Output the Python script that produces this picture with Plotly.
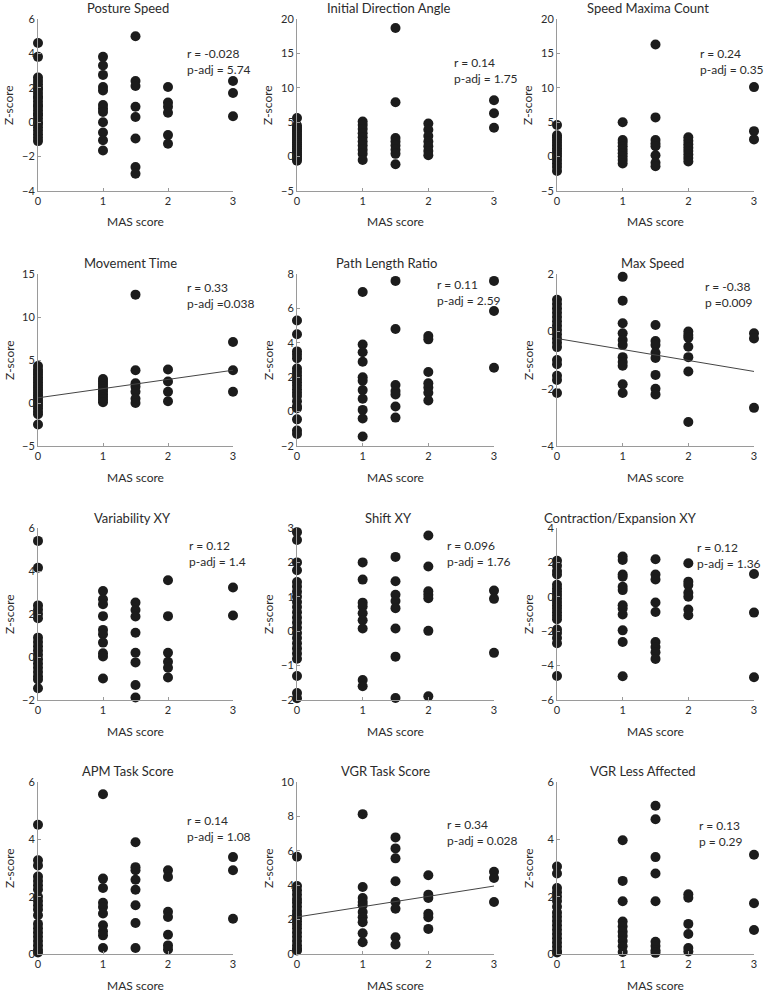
import plotly.graph_objects as go

W, H = 766, 992

MAS_LEVELS = [0, 1, 1.5, 2, 3]
X_TICKS = [0, 1, 2, 3]

TITLES = ["Posture Speed", "Initial Direction Angle", "Speed Maxima Count",
          "Movement Time", "Path Length Ratio", "Max Speed",
          "Variability XY", "Shift XY", "Contraction/Expansion XY",
          "APM Task Score", "VGR Task Score", "VGR Less Affected"]

STATS = ["r = -0.028<br>p-adj = 5.74", "r = 0.14<br>p-adj = 1.75", "r = 0.24<br>p-adj = 0.35",
         "r = 0.33<br>p-adj =0.038", "r = 0.11<br>p-adj = 2.59", "r = -0.38<br>p =0.009",
         "r = 0.12<br>p-adj = 1.4", "r = 0.096<br>p-adj = 1.76", "r = 0.12<br>p-adj = 1.36",
         "r = 0.14<br>p-adj = 1.08", "r = 0.34<br>p-adj = 0.028", "r = 0.13<br>p = 0.29"]

# Z-scores per MAS group (0, 1, 1.5, 2, 3)
posture_speed = [
    [-1.1, -0.9, -0.7, -0.5, -0.3, -0.1, 0.0, 0.2, 0.4, 0.5, 0.7, 0.9, 1.0, 1.2, 1.4, 1.5,
     1.7, 1.9, 2.0, 2.2, 2.4, 2.6, 3.8, 4.6],
    [3.8, 3.3, 2.75, 2.05, 1.85, 1.0, 0.8, 0.6, 0.0, -0.6, -1.05, -1.65],
    [5.0, 2.4, 2.1, 0.9, 0.3, -0.95, -2.6, -3.0],
    [2.05, 1.15, 0.9, 0.55, -0.75, -1.25],
    [2.4, 1.7, 0.35],
]
initial_direction_angle = [
    [-0.6, -0.3, 0.0, 0.3, 0.6, 0.9, 1.2, 1.5, 1.8, 2.1, 2.4, 2.7, 3.0, 3.3, 3.6, 3.9, 4.2, 4.5, 5.6],
    [5.1, 4.6, 4.0, 3.4, 2.8, 2.2, 1.6, 1.0, 0.4, -0.5],
    [18.7, 7.9, 2.7, 2.2, 1.6, 1.0, 0.4, -1.1],
    [4.8, 3.9, 3.0, 2.2, 1.5, 0.8, 0.2],
    [8.2, 6.3, 4.2],
]
speed_maxima_count = [
    [-2.1, -1.5, -1.0, -0.5, 0.0, 0.4, 0.8, 1.2, 1.6, 2.0, 2.4, 2.8, 3.1, 4.6],
    [5.0, 2.4, 2.0, 1.5, 1.0, 0.5, 0.0, -0.5, -1.0],
    [16.3, 5.7, 2.4, 1.9, 1.5, 0.2, -0.9, -1.4],
    [2.8, 2.3, 1.8, 1.3, 0.8, 0.3, -0.2, -0.7],
    [10.1, 3.7, 2.5],
]
movement_time = [
    [-2.5, -1.3, -1.0, -0.6, -0.3, 0.0, 0.3, 0.6, 0.9, 1.2, 1.5, 1.8, 2.1, 2.4, 2.7, 3.0,
     3.3, 3.6, 3.9, 4.3],
    [2.8, 2.5, 2.2, 1.9, 1.6, 1.3, 1.0, 0.7, 0.4, 0.1],
    [12.6, 3.8, 2.3, 1.9, 1.3, 0.5, 0.0],
    [3.9, 2.5, 1.3, 0.2],
    [7.1, 3.8, 1.3],
]
path_length_ratio = [
    [5.3, 4.5, 3.5, 3.3, 3.1, 2.5, 2.3, 2.1, 1.9, 1.7, 1.5, 1.3, 1.1, 0.9, 0.6, 0.3, 0.2,
     -0.45, -1.1, -1.3],
    [6.95, 3.9, 3.45, 2.9, 2.0, 1.8, 1.25, 0.75, 0.1, -0.4, -1.45],
    [7.6, 4.8, 1.55, 1.2, 1.0, 0.3, -0.35],
    [4.4, 4.2, 2.3, 1.65, 1.4, 1.1, 0.65],
    [7.6, 5.85, 2.55],
]
max_speed = [
    [1.1, 0.95, 0.8, 0.65, 0.5, 0.35, 0.2, 0.05, -0.1, -0.25, -0.4, -0.55, -1.0, -1.15,
     -1.55, -1.7, -2.15],
    [1.9, 1.07, 0.28, -0.07, -0.3, -0.48, -0.9, -1.07, -1.2, -1.85, -2.15],
    [0.22, -0.34, -0.48, -0.75, -0.93, -1.52, -2.0, -2.2],
    [-0.01, -0.13, -0.22, -0.54, -0.9, -1.4, -3.16],
    [-0.07, -0.25, -2.67],
]
variability_xy = [
    [5.4, 4.15, 2.4, 2.2, 2.0, 1.8, 0.9, 0.7, 0.5, 0.3, 0.1, -0.1, -0.3, -0.5, -0.7, -0.9,
     -1.05, -1.45],
    [3.07, 2.69, 2.45, 1.9, 1.26, 1.06, 0.67, 0.17, 0.02, -1.0],
    [2.53, 2.19, 1.88, 1.13, 0.2, -0.25, -1.3, -1.88],
    [3.57, 1.9, 0.2, -0.22, -0.5, -0.95],
    [3.23, 1.93],
]
shift_xy = [
    [2.88, 2.65, 2.0, 1.77, 1.43, 1.3, 1.15, 1.0, 0.85, 0.7, 0.55, 0.4, 0.25, 0.1, -0.05,
     -0.2, -0.35, -0.5, -0.65, -0.8, -1.3, -1.8, -1.95],
    [2.0, 1.5, 0.83, 0.72, 0.52, 0.32, 0.08, -1.42, -1.6],
    [3.03, 2.16, 1.45, 1.06, 0.88, 0.67, 0.08, -0.74, -1.94],
    [2.78, 1.88, 1.16, 1.06, 0.96, 0.01, -1.89],
    [1.18, 0.94, -0.63],
]
contraction_expansion_xy = [
    [2.1, 1.8, 1.5, 1.3, 0.7, 0.5, 0.3, 0.1, -0.1, -0.3, -0.5, -0.7, -0.9, -1.1, -1.3,
     -1.9, -2.1, -2.4, -2.7, -4.6],
    [2.34, 2.14, 1.3, 1.17, 0.58, 0.39, -0.49, -0.68, -1.03, -1.95, -2.63, -4.62],
    [2.18, 1.3, 1.01, -0.33, -0.88, -2.63, -2.92, -3.22, -3.61],
    [1.95, 0.88, 0.68, 0.23, 0.0, -0.74, -1.07],
    [1.33, -0.92, -4.68],
]
apm_task_score = [
    [4.51, 3.27, 3.09, 2.7, 2.55, 2.4, 2.25, 2.0, 1.85, 1.7, 1.55, 1.35, 1.05, 0.9, 0.75,
     0.6, 0.45, 0.3, 0.15, 0.05],
    [5.57, 2.63, 2.3, 1.79, 1.64, 1.41, 1.0, 0.79, 0.65, 0.21],
    [3.9, 3.03, 2.92, 2.59, 2.24, 1.7, 1.08, 0.21],
    [2.92, 2.69, 1.47, 1.29, 0.67, 0.3, 0.16],
    [3.38, 2.92, 1.23],
]
vgr_task_score = [
    [5.65, 3.95, 3.7, 3.45, 3.2, 3.0, 2.75, 2.5, 2.3, 2.1, 1.9, 1.7, 1.5, 1.25, 1.0, 0.75,
     0.5, 0.3, 0.2],
    [8.13, 3.9, 3.26, 3.02, 2.83, 2.44, 2.14, 1.85, 1.2, 0.68],
    [6.78, 6.14, 5.56, 4.23, 3.02, 2.63, 0.97, 0.55],
    [4.58, 3.45, 3.26, 2.34, 2.14, 1.46],
    [4.78, 4.42, 3.02],
]
vgr_less_affected = [
    [3.05, 2.81, 2.3, 2.15, 2.0, 1.85, 1.65, 1.45, 1.3, 1.15, 1.0, 0.85, 0.7, 0.55, 0.4,
     0.25, 0.1, 0.05],
    [3.97, 2.55, 1.84, 1.13, 0.96, 0.78, 0.63, 0.45, 0.27, 0.07],
    [5.17, 4.7, 3.38, 2.81, 1.84, 0.43, 0.28, 0.13, 0.04],
    [2.08, 1.96, 1.05, 0.7, 0.21, 0.09],
    [3.46, 1.77, 0.84],
]

PANELS = [posture_speed, initial_direction_angle, speed_maxima_count,
          movement_time, path_length_ratio, max_speed,
          variability_xy, shift_xy, contraction_expansion_xy,
          apm_task_score, vgr_task_score, vgr_less_affected]

Y_RANGES = [(-4, 6), (-5, 20), (-5, 20), (-5, 15), (-2, 8), (-4, 2),
            (-2, 6), (-2, 3), (-6, 4), (0, 6), (0, 10), (0, 6)]
Y_DTICK = [2, 5, 5, 5, 2, 2, 2, 1, 2, 2, 2, 2]

# regression fits (intercept, slope) for the significant panels
FITS = {3: (0.6, 1.07), 5: (-0.25, -0.383), 10: (2.15, 0.6)}

# ---------------- layout geometry (pixels) ----------------
COLS = [(38, 233), (297, 494), (557, 754)]
ROWS = [(19, 191), (274, 446), (528, 700), (782, 954)]
TITLE_X = [128, 389, 648, 130, 386, 652, 132, 388, 620, 128, 385, 643]
TITLE_Y = [8, 263, 518, 771]
STAT_POS = [(185, 61), (452, 71), (698, 61), (185, 295), (435, 292), (703, 294),
            (187, 553), (445, 553), (695, 555), (185, 828), (445, 832), (697, 833)]

FONT = "Lato, 'Open Sans', Arial, sans-serif"
TXT = "#2b2b2b"
AXC = "#9a9a9a"
DOT = "#1c1c1c"

fig = go.Figure()
layout = dict(width=W, height=H, margin=dict(l=0, r=0, t=0, b=0, autoexpand=False),
              paper_bgcolor="white", plot_bgcolor="white", showlegend=False,
              font=dict(family=FONT, size=11, color=TXT))
annotations = []

for i, groups in enumerate(PANELS):
    r, c = divmod(i, 3)
    n = "" if i == 0 else str(i + 1)
    xs, ys = [], []
    for lvl, vals in zip(MAS_LEVELS, groups):
        xs += [lvl] * len(vals)
        ys += vals
    fig.add_trace(go.Scatter(x=xs, y=ys, mode="markers", xaxis="x" + n, yaxis="y" + n,
                             marker=dict(size=10, color=DOT), cliponaxis=False,
                             hoverinfo="skip"))
    if i in FITS:
        a, b = FITS[i]
        fig.add_trace(go.Scatter(x=[0, 3], y=[a, a + 3 * b], mode="lines",
                                 xaxis="x" + n, yaxis="y" + n,
                                 line=dict(color="#444444", width=1), hoverinfo="skip"))
    x0, x1 = COLS[c]
    y0, y1 = ROWS[r]
    layout["xaxis" + n] = dict(domain=[x0 / W, x1 / W], range=[0, 3], anchor="y" + n,
                               tickvals=X_TICKS, showline=True, linecolor=AXC, linewidth=1,
                               ticks="inside", ticklen=3, tickcolor=AXC, showgrid=False,
                               zeroline=False, automargin=False,
                               tickfont=dict(size=11, color=TXT))
    lo, hi = Y_RANGES[i]
    layout["yaxis" + n] = dict(domain=[1 - y1 / H, 1 - y0 / H], range=[lo, hi],
                               anchor="x" + n, dtick=Y_DTICK[i], tick0=0,
                               showline=True, linecolor=AXC, linewidth=1,
                               ticks="inside", ticklen=3, tickcolor=AXC, showgrid=False,
                               zeroline=False, automargin=False,
                               tickfont=dict(size=11, color=TXT))
    annotations.append(dict(text=TITLES[i], x=TITLE_X[i] / W, y=1 - TITLE_Y[r] / H,
                            xref="paper", yref="paper", showarrow=False,
                            xanchor="center", yanchor="middle",
                            font=dict(size=13, color=TXT)))
    annotations.append(dict(text="MAS score", x=0.5, y=0, xref="x" + n + " domain",
                            yref="y" + n + " domain", yshift=-31, showarrow=False,
                            xanchor="center", yanchor="middle",
                            font=dict(size=12, color=TXT)))
    annotations.append(dict(text="Z-score", x=0, y=0.5, xref="x" + n + " domain",
                            yref="y" + n + " domain", xshift=-29, textangle=-90,
                            showarrow=False, xanchor="center", yanchor="middle",
                            font=dict(size=12, color=TXT)))
    sx, sy = STAT_POS[i]
    annotations.append(dict(text=STATS[i], x=sx / W, y=1 - sy / H, xref="paper",
                            yref="paper", showarrow=False, xanchor="left",
                            yanchor="middle", align="left",
                            font=dict(size=12, color=TXT)))

layout["annotations"] = annotations
fig.update_layout(**layout)
fig.write_html("out.html", config={"displayModeBar": False},
               post_script="document.body.style.margin='0';"
                           "document.body.style.overflow='hidden';")
